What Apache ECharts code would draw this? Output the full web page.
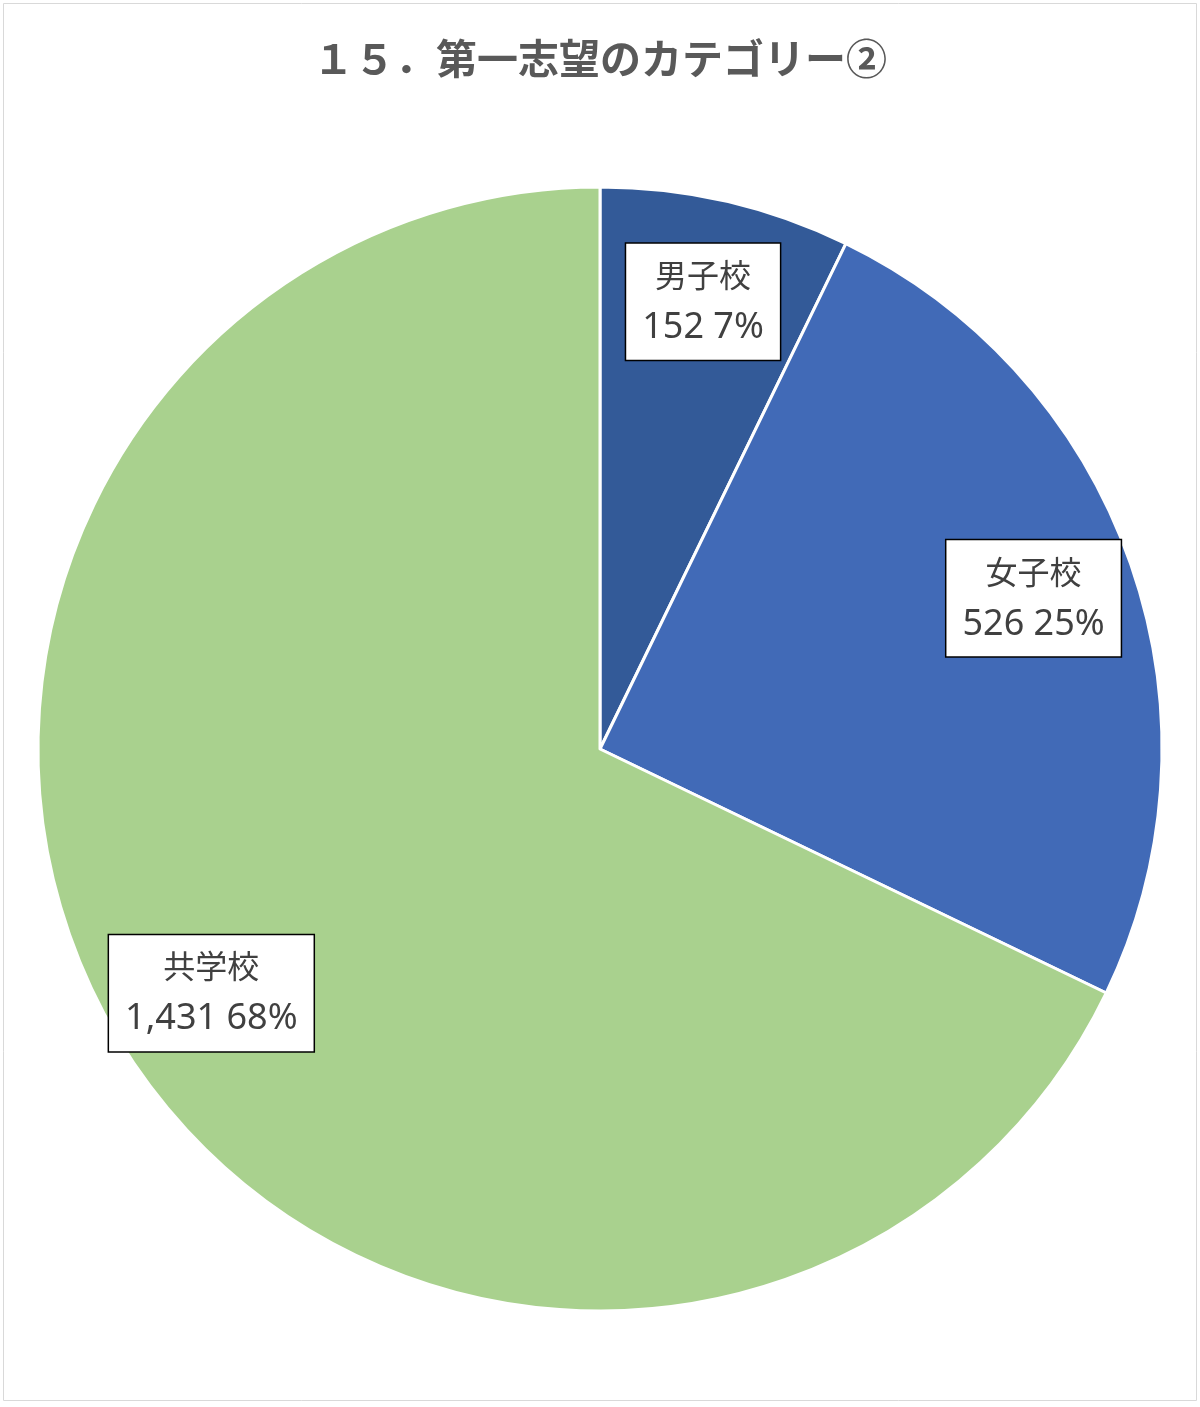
<!DOCTYPE html>
<html><head><meta charset="utf-8">
<script src="https://cdn.jsdelivr.net/npm/echarts@6/dist/echarts.min.js"></script>
<style>html,body{margin:0;padding:0;background:#fff}#c{width:1200px;height:1407px}</style>
</head><body><div id="c"></div>
<script>
const categories = ['男子校', '女子校', '共学校'];
const values = [152, 526, 1431];
const colors = ['#335A98', '#416AB7', '#A9D18E'];
const titleText = '１５．第一志望のカテゴリー②';

const total = values.reduce((a, b) => a + b, 0);
const data = categories.map((n, i) => ({ name: n, value: values[i], itemStyle: { color: colors[i] } }));
const fmt = v => v.toLocaleString('en-US');

const chart = echarts.init(document.getElementById('c'));
chart.setOption({
  animation: false,
  title: {
    text: titleText, left: 'center', top: 33,
    textStyle: { fontFamily: 'Noto Sans CJK JP', fontSize: 41, fontWeight: 'bold', color: '#595959' }
  },
  graphic: [{
    type: 'rect', shape: { x: 3.5, y: 3.5, width: 1193, height: 1397 },
    style: { fill: 'none', stroke: '#d9d9d9', lineWidth: 1 }, silent: true
  }],
  series: [{
    type: 'pie', center: [600, 749], radius: [0, 562], startAngle: 90, clockwise: true,
    data: data, label: { show: false }, labelLine: { show: false },
    itemStyle: { borderColor: '#fff', borderWidth: 3 }, silent: true
  }, {
    type: 'pie', center: [600, 749], radius: [350, 562], startAngle: 90, clockwise: true,
    data: data.map(d => ({ name: d.name, value: d.value, itemStyle: { color: 'rgba(0,0,0,0)' } })),
    silent: true, labelLine: { show: false },
    label: {
      show: true, position: 'inside',
      formatter: p => '{n|' + p.name + '}\n{v|' + fmt(p.value) + ' ' + Math.round(p.value / total * 100) + '%}',
      backgroundColor: '#fff', borderColor: '#000', borderWidth: 1.5, padding: [5, 16, 5, 16], align: 'center',
      rich: {
        n: { fontFamily: 'Noto Sans CJK JP', fontSize: 32, lineHeight: 52, color: '#404040', align: 'center' },
        v: { fontFamily: 'Noto Sans', fontSize: 36, lineHeight: 54, color: '#404040', align: 'center' }
      }
    }
  }]
});
</script></body></html>
